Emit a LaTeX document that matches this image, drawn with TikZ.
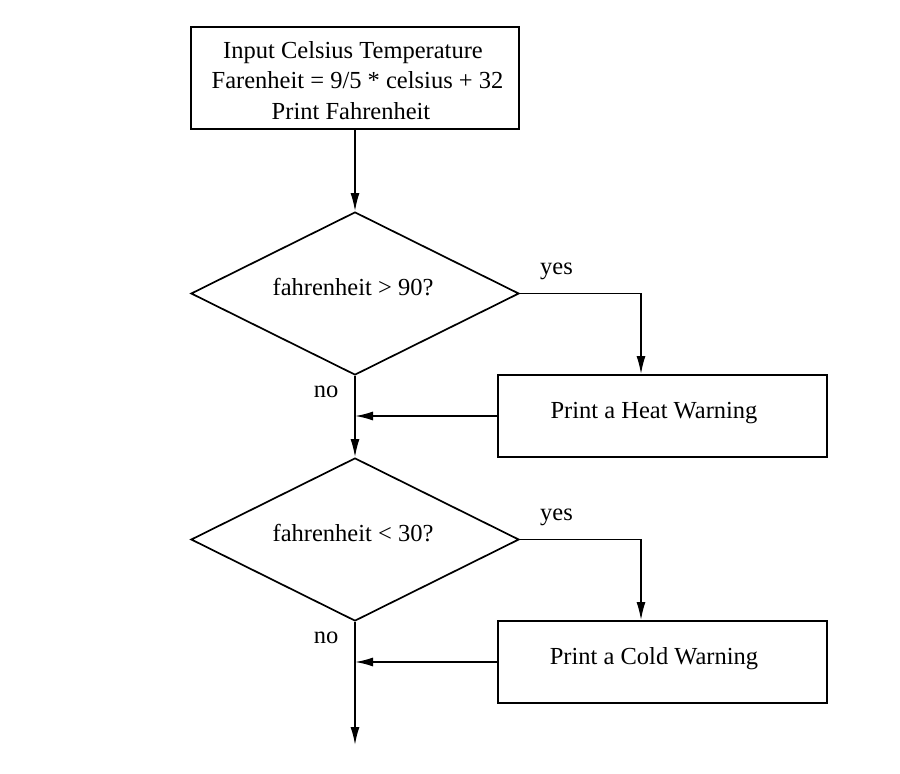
\documentclass[tikz,border=0pt]{standalone}
\usepackage{fontspec}
\setmainfont{Liberation Serif}
\usetikzlibrary{shapes.geometric,arrows.meta}
\begin{document}
\begin{tikzpicture}[x=1pt,y=-1pt,
  font=\fontsize{24.5}{30.5}\selectfont,
  line width=1.7pt,
  procbox/.style={draw, rectangle, inner sep=0pt},
  decide/.style={draw, diamond, aspect=2, inner sep=0pt, minimum width=328pt, minimum height=163pt},
  txt/.style={inner sep=0pt, anchor=base},
  flow/.style={-{Latex[length=18pt,width=9pt]}}]
\useasboundingbox (0,0) rectangle (900,774);
% shapes
\node[procbox, minimum width=328pt, minimum height=102pt] (start) at (355,78) {};
\node[decide] (d1) at (355,293.5) {};
\node[procbox, minimum width=329pt, minimum height=82pt] (heat) at (662.5,416) {};
\node[decide] (d2) at (355,539.5) {};
\node[procbox, minimum width=329pt, minimum height=82pt] (cold) at (662.5,662) {};
\coordinate (end) at (355,745);
% texts
\node[txt] (t1) at (353,58) {Input Celsius Temperature};
\node[txt] (t2) at (357.5,88) {Farenheit = 9/5 * celsius + 32};
\node[txt] (t3) at (351,119) {Print Fahrenheit};
\node[txt] (q1) at (353,295) {fahrenheit > 90?};
\node[txt] (q2) at (353,541) {fahrenheit < 30?};
\node[txt] (h) at (654,418) {Print a Heat Warning};
\node[txt] (c) at (654,664) {Print a Cold Warning};
\node[txt] (y1) at (556.5,274) {yes};
\node[txt] (n1) at (326,397) {no};
\node[txt] (y2) at (556.5,520) {yes};
\node[txt] (n2) at (326,643) {no};
% connectors
\draw[flow] (start.south) -- (d1.north);
\draw[flow] (d1.east) -| ([xshift=-21.5pt]heat.north);
\draw[flow] (heat.west) -- (heat.west -| d1.south);
\draw[flow] (d1.south) -- (d2.north);
\draw[flow] (d2.east) -| ([xshift=-21.5pt]cold.north);
\draw[flow] (cold.west) -- (cold.west -| d2.south);
\draw[flow] (d2.south) -- (end);
\end{tikzpicture}
\end{document}
